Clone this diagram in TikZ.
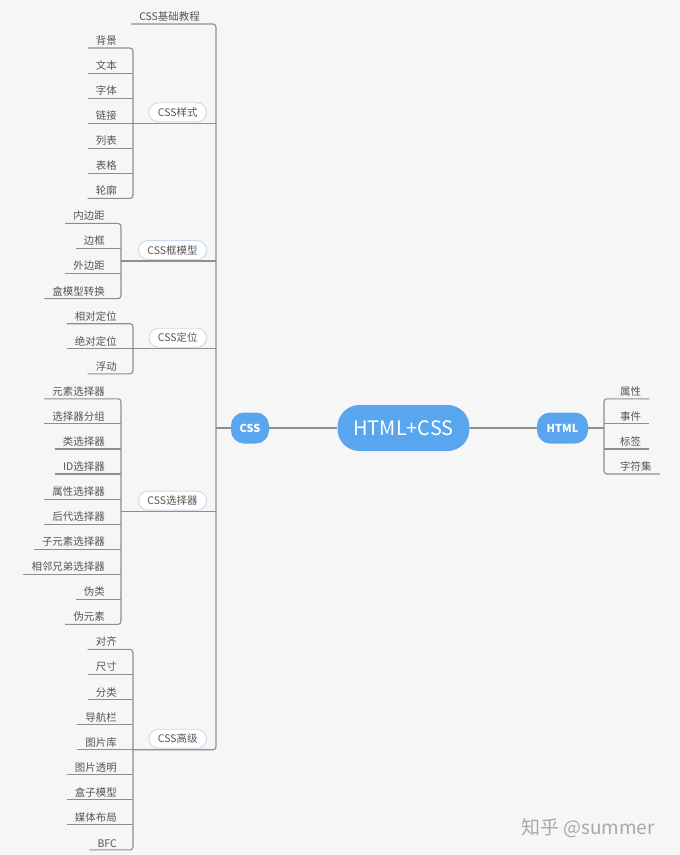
\documentclass[tikz,border=0pt]{standalone}
\usepackage{fontspec}
\setmainfont{Noto Sans CJK SC}
\usetikzlibrary{positioning}
\definecolor{bg}{HTML}{F6F6F6}
\definecolor{mapblue}{HTML}{5AA6EE}
\definecolor{ink}{HTML}{555555}
\definecolor{wire}{HTML}{8E8E8E}
\definecolor{pillrim}{HTML}{C8DAEC}
\definecolor{markgray}{HTML}{A8A8A8}

\begin{document}
\begin{tikzpicture}[x=1bp, y=-1bp,
        leaf/.style={anchor=south east, inner xsep=8bp, inner ysep=2.5bp, text=ink, font=\fontsize{10.5}{12}\selectfont},
        rleaf/.style={leaf, anchor=south west},
        topic/.style={draw=pillrim, fill=white, line width=0.9bp, rounded corners=9.5bp, anchor=south east, minimum height=19bp, inner xsep=9bp, inner ysep=0pt, text=ink, font=\fontsize{10.5}{12}\selectfont},
        hub/.style={fill=mapblue, rounded corners=13bp, minimum height=31bp, inner xsep=4bp, text=white, font=\bfseries\fontsize{11}{13}\selectfont},
        core/.style={fill=mapblue, rounded corners=22bp, minimum width=132bp, minimum height=46bp, text=white, font=\fontsize{20}{24}\selectfont},
        link/.style={draw=wire, line width=1.1bp, rounded corners=3bp}
    ]
        \fill[bg] (0,0) rectangle (680,855);

        \node[core] (root) at (403.5,428) {HTML+CSS};
        \node[hub, minimum width=38bp] (css) at (250,428) {CSS};
        \node[hub, minimum width=51bp] (html) at (562.5,428) {HTML};

        \coordinate (spine) at (216,428);
        \coordinate (html-b) at (604,428);
        \coordinate (sty-b) at (133,123.2);
        \coordinate (box-b) at (121,261);
        \coordinate (pos-b) at (133,348.7);
        \coordinate (sel-b) at (121,511.6);
        \coordinate (adv-b) at (133,749.7);

        \node[leaf] (base) at (208,24) {CSS基础教程};
        \node[topic] (sty) at (207,122.2) {CSS样式};
        \node[topic] (box) at (207,260) {CSS框模型};
        \node[topic] (pos) at (207,347.7) {CSS定位};
        \node[topic] (sel) at (207,510.6) {CSS选择器};
        \node[topic] (adv) at (207,748.7) {CSS高级};

        \node[leaf] (s1) at (125,48) {背景};
        \node[leaf] (s2) at (125,73.1) {文本};
        \node[leaf] (s3) at (125,98.1) {字体};
        \node[leaf] (s4) at (125,123.2) {链接};
        \node[leaf] (s5) at (125,148.2) {列表};
        \node[leaf] (s6) at (125,173.3) {表格};
        \node[leaf] (s7) at (125,198.4) {轮廓};

        \node[leaf] (k1) at (113,223.4) {内边距};
        \node[leaf] (k2) at (113,248.5) {边框};
        \node[leaf] (k3) at (113,273.5) {外边距};
        \node[leaf] (k4) at (113,298.6) {盒模型转换};

        \node[leaf] (d1) at (125,323.7) {相对定位};
        \node[leaf] (d2) at (125,348.7) {绝对定位};
        \node[leaf] (d3) at (125,373.8) {浮动};

        \node[leaf] (x1) at (113,398.8) {元素选择器};
        \node[leaf] (x2) at (113,423.9) {选择器分组};
        \node[leaf] (x3) at (113,449) {类选择器};
        \node[leaf] (x4) at (113,474) {ID选择器};
        \node[leaf] (x5) at (113,499.1) {属性选择器};
        \node[leaf] (x6) at (113,524.1) {后代选择器};
        \node[leaf] (x7) at (113,549.2) {子元素选择器};
        \node[leaf] (x8) at (113,574.3) {相邻兄弟选择器};
        \node[leaf] (x9) at (113,599.3) {伪类};
        \node[leaf] (x10) at (113,624.4) {伪元素};

        \node[leaf] (g1) at (125,649.4) {对齐};
        \node[leaf] (g2) at (125,674.5) {尺寸};
        \node[leaf] (g3) at (125,699.6) {分类};
        \node[leaf] (g4) at (125,724.6) {导航栏};
        \node[leaf] (g5) at (125,749.7) {图片库};
        \node[leaf] (g6) at (125,774.7) {图片透明};
        \node[leaf] (g7) at (125,799.8) {盒子模型};
        \node[leaf] (g8) at (125,824.9) {媒体布局};
        \node[leaf] (g9) at (125,849.9) {BFC};

        \node[rleaf] (h1) at (612,398.8) {属性};
        \node[rleaf] (h2) at (612,423.9) {事件};
        \node[rleaf] (h3) at (612,449) {标签};
        \node[rleaf] (h4) at (612,474) {字符集};

        \node[text=markgray, font=\fontsize{19}{22}\selectfont] (mark) at (588,828) {知乎 @summer};

        % trunk
        \draw[link] (spine) -- (css);
        \draw[link] (css) -- (root);
        \draw[link] (root) -- (html);
        \draw[link] (base.south west) -| (spine) |- (adv-b);
        \draw[link] (sty-b) -- (sty-b -| spine);
        \draw[link] (box-b) -- (box-b -| spine);
        \draw[link] (pos-b) -- (pos-b -| spine);
        \draw[link] (sel-b) -- (sel-b -| spine);

        % CSS样式
        \draw[link] (s1.south west) -| (sty-b) |- (s7.south west);
        \draw[link] (s2.south west) -- (s2.south -| sty-b);
        \draw[link] (s3.south west) -- (s3.south -| sty-b);
        \draw[link] (s4.south west) -- (s4.south -| sty-b);
        \draw[link] (s5.south west) -- (s5.south -| sty-b);
        \draw[link] (s6.south west) -- (s6.south -| sty-b);

        % CSS框模型
        \draw[link] (k1.south west) -| (box-b) |- (k4.south west);
        \draw[link] (k2.south west) -- (k2.south -| box-b);
        \draw[link] (k3.south west) -- (k3.south -| box-b);

        % CSS定位
        \draw[link] (d1.south west) -| (pos-b) |- (d3.south west);
        \draw[link] (d2.south west) -- (d2.south -| pos-b);

        % CSS选择器
        \draw[link] (x1.south west) -| (sel-b) |- (x10.south west);
        \draw[link] (x2.south west) -- (x2.south -| sel-b);
        \draw[link] (x3.south west) -- (x3.south -| sel-b);
        \draw[link] (x4.south west) -- (x4.south -| sel-b);
        \draw[link] (x5.south west) -- (x5.south -| sel-b);
        \draw[link] (x6.south west) -- (x6.south -| sel-b);
        \draw[link] (x7.south west) -- (x7.south -| sel-b);
        \draw[link] (x8.south west) -- (x8.south -| sel-b);
        \draw[link] (x9.south west) -- (x9.south -| sel-b);

        % CSS高级
        \draw[link] (g1.south west) -| (adv-b) |- (g9.south west);
        \draw[link] (g2.south west) -- (g2.south -| adv-b);
        \draw[link] (g3.south west) -- (g3.south -| adv-b);
        \draw[link] (g4.south west) -- (g4.south -| adv-b);
        \draw[link] (g5.south west) -- (g5.south -| adv-b);
        \draw[link] (g6.south west) -- (g6.south -| adv-b);
        \draw[link] (g7.south west) -- (g7.south -| adv-b);
        \draw[link] (g8.south west) -- (g8.south -| adv-b);

        % HTML
        \draw[link] (html) -- (html-b);
        \draw[link] (h1.south east) -| (html-b) |- (h4.south east);
        \draw[link] (h2.south -| html-b) -- (h2.south east);
        \draw[link] (h3.south -| html-b) -- (h3.south east);
    \end{tikzpicture}
\end{document}
